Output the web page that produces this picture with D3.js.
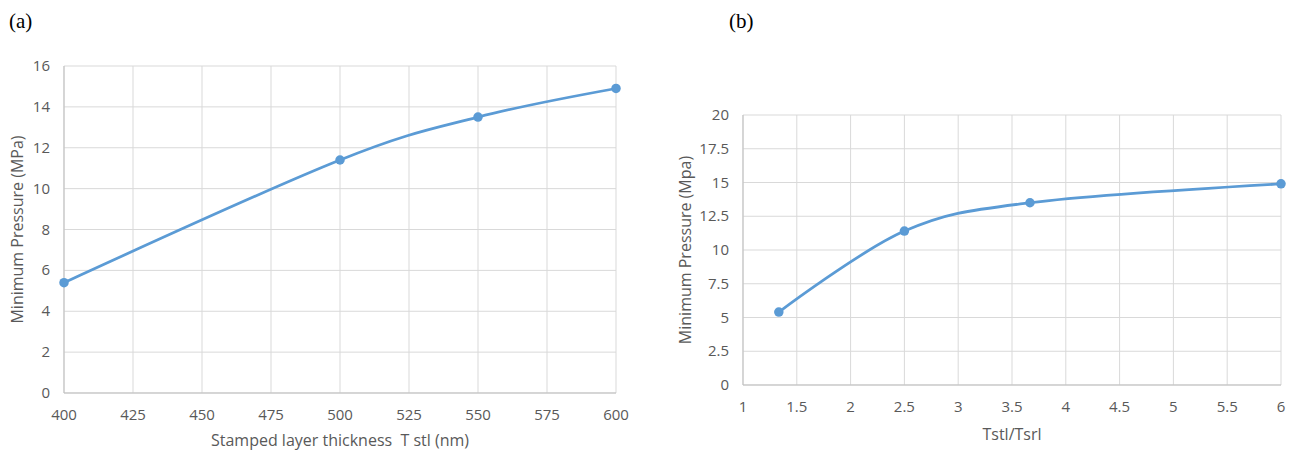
<!DOCTYPE html>
<html>
<head>
<meta charset="utf-8">
<script src="https://cdn.jsdelivr.net/npm/d3@7"></script>
<style>
body{margin:0;background:#fff;}
text{font-family:"Open Sans","Liberation Sans",sans-serif;white-space:pre;}
</style>
</head>
<body>
<script>
// panel (a)
var thicknessA = [400, 500, 550, 600];
var pressureA = [5.4, 11.4, 13.5, 14.9];
var xTicksA = [400, 425, 450, 475, 500, 525, 550, 575, 600];
var yTicksA = [0, 2, 4, 6, 8, 10, 12, 14, 16];
// panel (b)
var ratioB = [1.333, 2.5, 3.667, 6];
var pressureB = [5.4, 11.4, 13.5, 14.9];
var xTicksB = [1, 1.5, 2, 2.5, 3, 3.5, 4, 4.5, 5, 5.5, 6];
var yTicksB = [0, 2.5, 5, 7.5, 10, 12.5, 15, 17.5, 20];

var svg = d3.select("body").append("svg")
    .attr("width", 1297)
    .attr("height", 454);

function panel(o){
  var x = d3.scaleLinear().domain(o.xdom).range([o.left, o.right]);
  var y = d3.scaleLinear().domain(o.ydom).range([o.bottom, o.top]);
  var g = svg.append("g");

  // grid
  g.selectAll(".hg").data(o.yticks).enter().append("line")
      .attr("x1", o.left).attr("x2", o.right)
      .attr("y1", function(d){return y(d);}).attr("y2", function(d){return y(d);})
      .style("stroke", "#d9d9d9").style("stroke-width", 1);
  g.selectAll(".vg").data(o.xticks).enter().append("line")
      .attr("y1", o.top).attr("y2", o.bottom)
      .attr("x1", function(d){return x(d);}).attr("x2", function(d){return x(d);})
      .style("stroke", "#d9d9d9").style("stroke-width", 1);
  // axis lines
  g.append("line").attr("x1", o.left).attr("x2", o.right).attr("y1", o.bottom).attr("y2", o.bottom)
      .style("stroke", "#bfbfbf");
  g.append("line").attr("x1", o.left).attr("x2", o.left).attr("y1", o.top).attr("y2", o.bottom)
      .style("stroke", "#bfbfbf");

  // tick labels
  g.selectAll(".yl").data(o.yticks).enter().append("text")
      .attr("x", o.left - 14)
      .attr("y", function(d){return y(d) + 5;})
      .attr("text-anchor", "end")
      .style("font-size", "15px").style("fill", "#595959")
      .text(function(d){return d;});
  g.selectAll(".xl").data(o.xticks).enter().append("text")
      .attr("x", function(d){return x(d);})
      .attr("y", o.bottom + 27)
      .attr("text-anchor", "middle")
      .style("font-size", "15px").style("fill", "#595959")
      .text(function(d){return d;});

  // axis titles
  g.append("text")
      .attr("transform", "translate(" + o.ytitleX + "," + (o.top + o.bottom) / 2 + ") rotate(-90)")
      .attr("text-anchor", "middle")
      .style("font-size", "16px").style("fill", "#595959")
      .text(o.ytitle);
  g.append("text")
      .attr("x", (o.left + o.right) / 2)
      .attr("y", o.xtitleY)
      .attr("text-anchor", "middle")
      .style("font-size", "16px").style("fill", "#595959")
      .text(o.xtitle);

  // panel letter
  g.append("text")
      .attr("x", o.letterX).attr("y", 28)
      .style("font-family", "'Liberation Serif','Times New Roman',serif")
      .style("font-size", "21px").style("fill", "#000")
      .text(o.letter);

  var pts = o.xs.map(function(d, i){return [d, o.ys[i]];});
  var line = d3.line()
      .x(function(d){return x(d[0]);})
      .y(function(d){return y(d[1]);})
      .curve(d3.curveCardinal.tension(0));
  g.append("path").datum(pts)
      .attr("d", line)
      .style("fill", "none").style("stroke", "#5b9bd5").style("stroke-width", 2.75);
  g.selectAll("circle").data(pts).enter().append("circle")
      .attr("cx", function(d){return x(d[0]);})
      .attr("cy", function(d){return y(d[1]);})
      .attr("r", 4.75)
      .style("fill", "#5b9bd5");
}

panel({
  xdom: [400, 600], ydom: [0, 16],
  left: 64, right: 616, top: 66, bottom: 393,
  xticks: xTicksA, yticks: yTicksA,
  xs: thicknessA, ys: pressureA,
  ytitle: "Minimum Pressure (MPa)", ytitleX: 23,
  xtitle: "Stamped layer thickness  T stl (nm)", xtitleY: 446,
  letter: "(a)", letterX: 9
});

panel({
  xdom: [1, 6], ydom: [0, 20],
  left: 743, right: 1281, top: 115, bottom: 385,
  xticks: xTicksB, yticks: yTicksB,
  xs: ratioB, ys: pressureB,
  ytitle: "Minimum Pressure (Mpa)", ytitleX: 691,
  xtitle: "Tstl/Tsrl", xtitleY: 440,
  letter: "(b)", letterX: 729
});
</script>
</body>
</html>
